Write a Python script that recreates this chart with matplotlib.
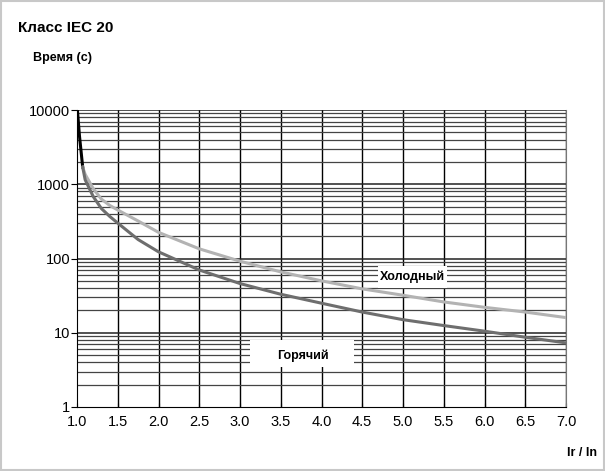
import matplotlib.pyplot as plt
from matplotlib.patches import Rectangle

plt.rcParams['font.family'] = ['Liberation Sans', 'DejaVu Sans']

# current ratio Ir/In
x_start = [1.005, 1.03, 1.07]
t_start = [10000, 4500, 1700]

x_curve = [1.07, 1.1, 1.2, 1.3, 1.4, 1.5, 1.75, 2.0, 2.5, 3.0, 3.5, 4.0, 4.5, 5.0, 5.5, 6.0, 6.5, 7.0]
t_cold = [1700, 1360, 870, 630, 520, 450, 320, 225, 135, 92, 66, 50, 39, 32, 26, 22, 19, 16]
t_hot = [1700, 1150, 680, 470, 370, 300, 180, 123, 70, 46, 33, 25, 19, 15, 12.5, 10.5, 8.7, 7.3]

x_ticks = [1.0, 1.5, 2.0, 2.5, 3.0, 3.5, 4.0, 4.5, 5.0, 5.5, 6.0, 6.5, 7.0]
y_ticks = [1, 10, 100, 1000, 10000]
y_ticklabels = ['1', '10', '100', '1000', '10000']

fig = plt.figure(figsize=(6.05, 4.71), dpi=100)
fig.patches.append(Rectangle((0.002, 0.002), 0.996, 0.996, transform=fig.transFigure,
                             fill=False, edgecolor='#c8c8c8', lw=1.5))
ax = fig.add_axes([77/605, 1-407/471, 489/605, 297/471])

ax.set_yscale('log')
ax.set_xlim(1.0, 7.0)
ax.set_ylim(1, 10000)

# grid
for xv in x_ticks[1:]:
    ax.axvline(xv, color='black', lw=1.0, zorder=1)
for dec in [1, 10, 100, 1000]:
    for m in range(2, 11):
        ax.axhline(dec*m, color='#222222' if m == 10 else '#444444',
                   lw=1.1 if m == 10 else 0.9, zorder=1)

ax.plot(x_start, t_start, color='black', lw=2.2, zorder=3)
ax.plot(x_curve, t_cold, color='#b3b3b3', lw=2.2, zorder=3)
ax.plot(x_curve, t_hot, color='#6e6e6e', lw=2.2, zorder=3)

# white label boxes (axes fraction)
ax.add_patch(Rectangle((0.615, 0.402), 0.142, 0.072, transform=ax.transAxes,
                       facecolor='white', edgecolor='none', zorder=4))
ax.add_patch(Rectangle((0.354, 0.135), 0.213, 0.091, transform=ax.transAxes,
                       facecolor='white', edgecolor='none', zorder=4))
ax.text(0.686, 0.438, 'Холодный', fontsize=9, fontweight='bold', ha='center', va='center',
        transform=ax.transAxes, zorder=5)
ax.text(0.462, 0.172, 'Горячий', fontsize=9, fontweight='bold', ha='center', va='center',
        transform=ax.transAxes, zorder=5)

ax.set_xticks(x_ticks)
ax.set_xticklabels([f'{v:.1f}' for v in x_ticks], fontsize=10.5)
ax.set_yticks(y_ticks)
ax.set_yticklabels(y_ticklabels, fontsize=10.5)
ax.yaxis.set_minor_locator(plt.NullLocator())
ax.tick_params(axis='y', direction='out', length=4, pad=1)
ax.tick_params(axis='x', direction='in', length=3, pad=6)

for s in ['left', 'bottom']:
    ax.spines[s].set_color('black')
ax.spines['right'].set_color('#777777')
ax.spines['top'].set_visible(False)

fig.text(18/605, 1-28/471, 'Класс IEC 20', fontsize=11, fontweight='bold', va='center')
fig.text(33/605, 1-58/471, 'Время (с)', fontsize=9, fontweight='bold', va='center')
fig.text(597/605, 1-453/471, 'Ir / In', fontsize=9, fontweight='bold', ha='right', va='center')

fig.savefig('out.png', dpi=100)
